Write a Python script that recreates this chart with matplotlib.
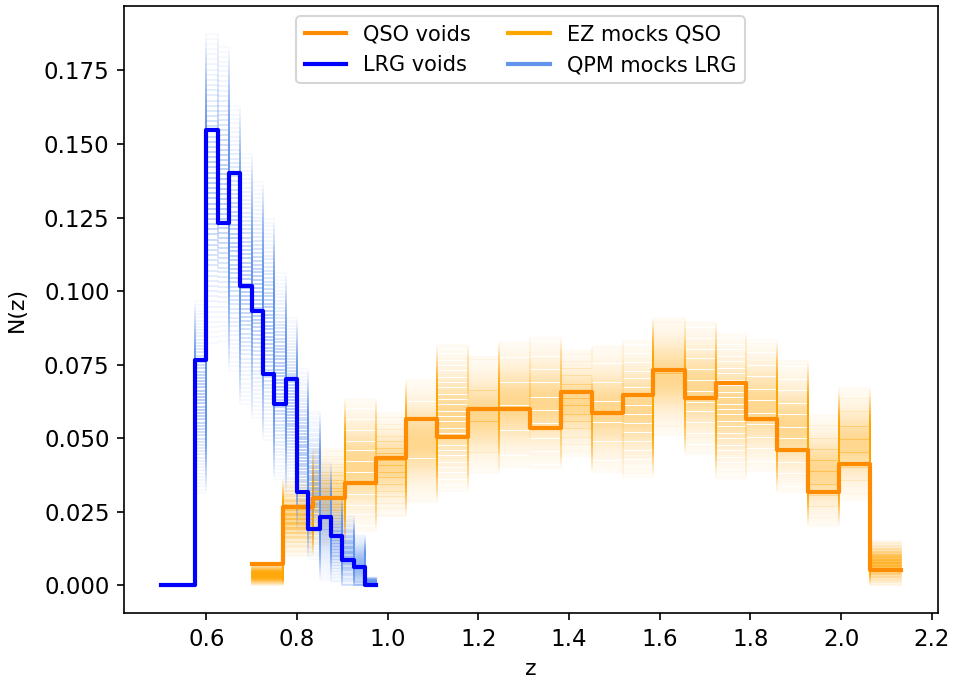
import numpy as np
import matplotlib.pyplot as plt
from matplotlib.lines import Line2D

# LRG voids, bin edges (left) and normalised counts
lrg_edges = [0.500, 0.525, 0.550, 0.575, 0.600, 0.625, 0.650, 0.675, 0.700, 0.725,
             0.750, 0.775, 0.800, 0.825, 0.850, 0.875, 0.900, 0.925, 0.950, 0.975]
lrg_nz = [0.0, 0.0, 0.0, 0.0765, 0.1548, 0.1230, 0.1400, 0.1019, 0.0932, 0.0717,
          0.0615, 0.0700, 0.0319, 0.0191, 0.0231, 0.0168, 0.0085, 0.0064, 0.0]
# QPM mocks LRG: per-bin mean and scatter
lrg_mock_mean = [0.0, 0.0, 0.0, 0.064, 0.135, 0.133, 0.118, 0.104, 0.097, 0.087,
                 0.071, 0.061, 0.046, 0.034, 0.022, 0.016, 0.011, 0.007, 0.001]
lrg_mock_sd = [0.0, 0.0, 0.0, 0.013, 0.021, 0.020, 0.018, 0.017, 0.016, 0.015,
               0.014, 0.012, 0.011, 0.010, 0.008, 0.006, 0.005, 0.004, 0.0007]

# QSO voids
qso_edges = [0.700, 0.768, 0.836, 0.905, 0.973, 1.041, 1.109, 1.177, 1.245, 1.314, 1.382,
             1.450, 1.518, 1.586, 1.655, 1.723, 1.791, 1.859, 1.927, 1.995, 2.064, 2.132]
qso_nz = [0.0072, 0.0268, 0.0297, 0.0349, 0.0433, 0.0566, 0.0505, 0.0598, 0.0598, 0.0535,
          0.0658, 0.0586, 0.0648, 0.0731, 0.0638, 0.0689, 0.0566, 0.0461, 0.0319, 0.0412, 0.0051]
# EZ mocks QSO
qso_mock_mean = [0.0036, 0.023, 0.030, 0.041, 0.041, 0.049, 0.057, 0.058, 0.0615, 0.062,
                 0.062, 0.060, 0.060, 0.071, 0.067, 0.061, 0.061, 0.054, 0.039, 0.048, 0.0075]
qso_mock_sd = [0.0014, 0.0052, 0.0065, 0.009, 0.007, 0.0083, 0.0099, 0.0079, 0.0085, 0.0088,
               0.0072, 0.0086, 0.0092, 0.008, 0.009, 0.0098, 0.0089, 0.0089, 0.0075, 0.0076, 0.003]

mock_t = np.linspace(-2.5, 2.5, 61)


def draw_mocks(ax, edges, mean, sd, color):
    mean = np.asarray(mean)
    sd = np.asarray(sd)
    for t in mock_t:
        y = np.clip(mean + t * sd, 0, None)
        ax.step(edges, np.append(y, y[-1]), where='post', color=color, lw=0.8,
                alpha=0.5 * np.exp(-t**2 / 2) + 0.03, zorder=1)


fig = plt.figure(figsize=(953 / 150, 680 / 150), dpi=150)
ax = fig.add_axes([0.1303, 0.0985, 0.8539, 0.8927])

draw_mocks(ax, qso_edges, qso_mock_mean, qso_mock_sd, 'orange')
draw_mocks(ax, lrg_edges, lrg_mock_mean, lrg_mock_sd, 'cornflowerblue')

ax.step(qso_edges, qso_nz + [qso_nz[-1]], where='post', color='darkorange', lw=2.0, zorder=3)
ax.step(lrg_edges, lrg_nz + [lrg_nz[-1]], where='post', color='blue', lw=2.0, zorder=3)

ax.tick_params(labelsize=11)
ax.set_xlabel('z', fontsize=10.5)
ax.set_ylabel('N(z)', fontsize=10.5, labelpad=8)

handles = [Line2D([], [], color='darkorange', lw=2.0), Line2D([], [], color='blue', lw=2.0),
           Line2D([], [], color='orange', lw=2.0), Line2D([], [], color='cornflowerblue', lw=2.0)]
labels = ['QSO voids', 'LRG voids', 'EZ mocks QSO', 'QPM mocks LRG']
ax.legend(handles, labels, ncol=2, loc='upper center', bbox_to_anchor=(0.487, 1.0),
          columnspacing=1.8)

fig.savefig('out.png', dpi=150)
